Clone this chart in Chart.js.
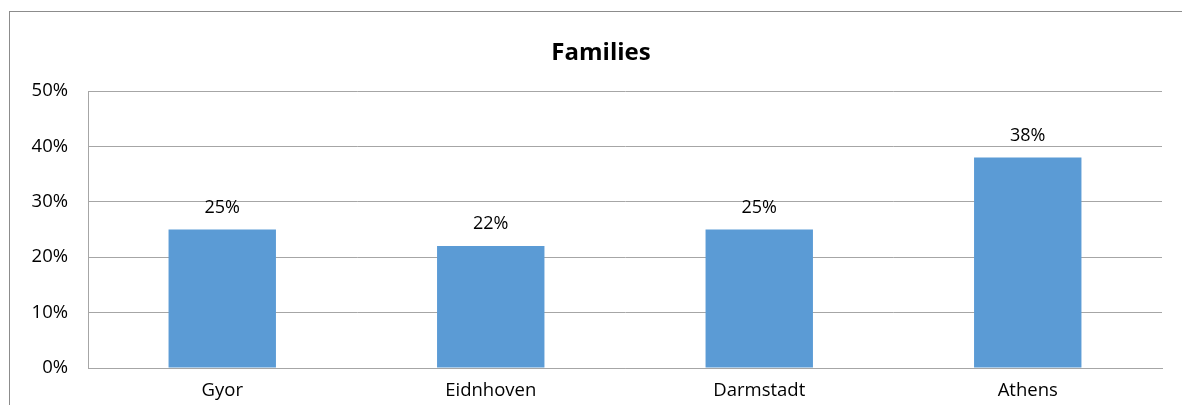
<!DOCTYPE html>
<html>
<head>
<meta charset="utf-8">
<script src="https://cdn.jsdelivr.net/npm/chart.js@4/dist/chart.umd.min.js"></script>
<style>
  html, body { margin: 0; padding: 0; background: #fff; overflow: hidden; }
  #frame {
    position: absolute; left: 9px; top: 11px; width: 1300px; height: 500px;
    border-left: 1px solid #8c8c8c; border-top: 1px solid #8c8c8c;
  }
  #wrap { position: absolute; left: 0; top: 0; width: 1182px; height: 405px; }
</style>
</head>
<body>
<div id="frame"></div>
<div id="wrap"><canvas id="chart-families"></canvas></div>
<script>
// ── Daten ──
const staedte = ['Gyor', 'Eidnhoven', 'Darmstadt', 'Athens'];
const familienAnteil = [25, 22, 25, 38];
const yTicks = [0, 10, 20, 30, 40, 50];
const titel = 'Families';

const schrift = '"Open Sans", sans-serif';
const gitterFarbe = '#a6a6a6';

// Titel mittig über dem ganzen Rahmen (nicht nur über dem Canvas-Inhalt)
const titelPlugin = {
  id: 'titelPlugin',
  afterDraw(chart) {
    const ctx = chart.ctx;
    ctx.save();
    ctx.font = 'bold 24px ' + schrift;
    ctx.fillStyle = '#000';
    ctx.textAlign = 'center';
    ctx.textBaseline = 'middle';
    ctx.fillText(titel, 601, 53);
    ctx.restore();
  }
};

// Werte über die Balken schreiben
const wertLabels = {
  id: 'wertLabels',
  afterDatasetsDraw(chart) {
    const ctx = chart.ctx;
    const meta = chart.getDatasetMeta(0);
    ctx.save();
    ctx.font = '18px ' + schrift;
    ctx.fillStyle = '#000';
    ctx.textAlign = 'center';
    ctx.textBaseline = 'middle';
    meta.data.forEach((bar, i) => {
      ctx.fillText(familienAnteil[i] + '%', bar.x, bar.y - 22);
    });
    ctx.restore();
  }
};

new Chart(document.getElementById('chart-families'), {
  type: 'bar',
  data: {
    labels: staedte,
    datasets: [{
      label: titel,
      data: familienAnteil,
      backgroundColor: '#5b9bd5',
      borderWidth: 0,
      categoryPercentage: 1,
      barPercentage: 0.4
    }]
  },
  options: {
    responsive: true,
    maintainAspectRatio: false,
    animation: false,
    layout: { padding: { left: 0, right: 20, top: 91, bottom: 0 } },
    plugins: {
      legend: { display: false },
      tooltip: { enabled: false },
      title: { display: false }
    },
    scales: {
      x: {
        grid: { display: false, drawTicks: false },
        border: { display: true, color: gitterFarbe, width: 1 },
        ticks: { color: '#000', font: { family: schrift, size: 18.5 }, padding: 12 },
        afterFit: s => { s.height = 37; }
      },
      y: {
        min: 0,
        max: 50,
        afterBuildTicks: s => { s.ticks = yTicks.map(v => ({ value: v })); },
        grid: { color: gitterFarbe, lineWidth: 1, drawTicks: false },
        border: { display: true, color: gitterFarbe, width: 1 },
        ticks: {
          color: '#000',
          font: { family: schrift, size: 18.5 },
          padding: 20,
          callback: v => v + '%'
        },
        afterFit: s => { s.width = 88; }
      }
    }
  },
  plugins: [wertLabels, titelPlugin]
});
</script>
</body>
</html>
